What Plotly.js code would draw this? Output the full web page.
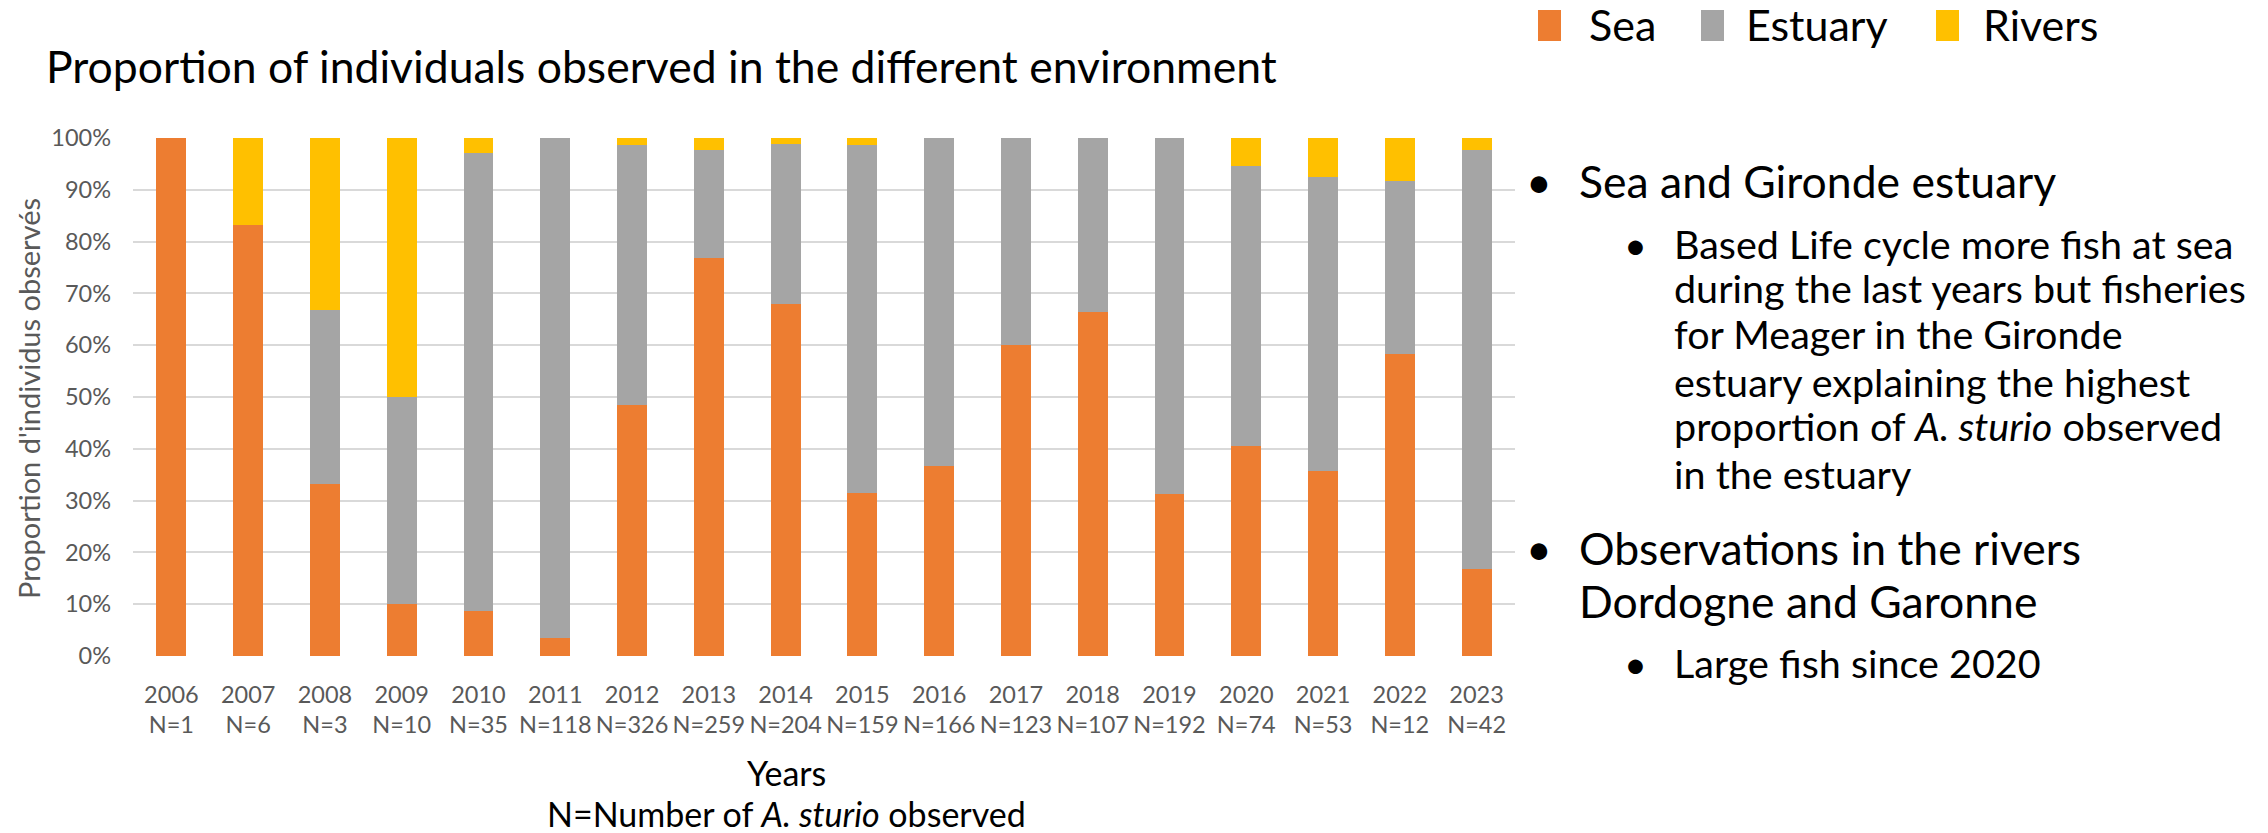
<!DOCTYPE html>
<html>
<head>
<meta charset="utf-8">
<script src="https://cdn.plot.ly/plotly-3.0.1.min.js"></script>
<style>
  html, body { margin: 0; padding: 0; background: #ffffff; }
  #chart { width: 2268px; height: 833px; }
</style>
</head>
<body>
<div id="chart"></div>
<script>
// Observation years and number of A. sturio observed each year
const years = ['2006','2007','2008','2009','2010','2011','2012','2013','2014',
               '2015','2016','2017','2018','2019','2020','2021','2022','2023'];
const counts = [1, 6, 3, 10, 35, 118, 326, 259, 204, 159, 166, 123, 107, 192, 74, 53, 12, 42];

// Share of individuals (%) observed in each environment
const seaPct     = [100, 83.3, 33.3, 10, 8.6, 3.4, 48.5, 76.8, 68.0, 31.4, 36.7, 60.0, 66.4, 31.3, 40.5, 35.8, 58.3, 16.7];
const estuaryPct = [0,   0,    33.4, 40, 88.5, 96.6, 50.1, 20.8, 30.9, 67.3, 63.3, 40.0, 33.6, 68.7, 54.1, 56.7, 33.4, 80.9];
const riversPct  = [0,   16.7, 33.3, 50, 2.9, 0,   1.4,  2.4,  1.1,  1.3,  0,    0,    0,    0,    5.4,  7.5,  8.3,  2.4];

const seriesNames = ['Sea', 'Estuary', 'Rivers'];
const yTicks = [0, 10, 20, 30, 40, 50, 60, 70, 80, 90, 100];
const yTickText = yTicks.map(v => v + '%');
const xTickText = years.map((y, i) => y + '<br>N=' + counts[i]);

const chartTitle = 'Proportion of individuals observed in the different environment';
const yTitle = "Proportion d'individus observés";
const xTitleLines = ['Years', 'N=Number of <i>A. sturio</i> observed'];

// Commentary beside the chart: [indent level, has bullet, text]
const notes = [
  [1, true,  'Sea and Gironde estuary'],
  [2, true,  'Based Life cycle more fish at sea'],
  [2, false, 'during the last years but fisheries'],
  [2, false, 'for Meager in the Gironde'],
  [2, false, 'estuary explaining the highest'],
  [2, false, 'proportion of <i>A. sturio</i> observed'],
  [2, false, 'in the estuary'],
  [1, true,  'Observations in the rivers'],
  [1, false, 'Dordogne and Garonne'],
  [2, true,  'Large fish since 2020']
];

// ---- styling and placement ----
const FONT = 'Lato, "Open Sans", sans-serif';
const COLORS = ['#ED7D31', '#A5A5A5', '#FFC000'];
const TEXT_GREY = '#595959';

const W = 2268, H = 833;
const M = { l: 133, r: 753, t: 138, b: 177 };
const PW = W - M.l - M.r, PH = H - M.t - M.b;

// pixel position on the page -> paper coordinates
const px = x => (x - M.l) / PW;
const py = y => (H - M.b - y) / PH;

function label(text, x, baseline, size, opts) {
  opts = opts || {};
  return Object.assign({
    text: text,
    xref: 'paper', yref: 'paper',
    x: px(x), y: py(baseline - 0.36 * size),
    xanchor: 'left', yanchor: 'middle',
    showarrow: false,
    borderpad: 0, borderwidth: 0,
    font: { family: FONT, size: size, color: '#000000' }
  }, opts);
}

const annotations = [];
const shapes = [];

// title of the y axis
annotations.push({
  text: yTitle, xref: 'paper', yref: 'paper',
  x: px(28), y: py(399), xanchor: 'center', yanchor: 'middle',
  textangle: -90, showarrow: false,
  font: { family: FONT, size: 29, color: TEXT_GREY }
});

// two-line title under the x axis
const xTitleBase = [785, 826];
xTitleLines.forEach((t, i) => {
  annotations.push(label(t, 786, xTitleBase[i], 34, { xanchor: 'center' }));
});

// legend row at the top right
const legendSwatchX = [1538, 1701, 1936];
const legendTextX = [1589, 1746, 1983];
seriesNames.forEach((name, i) => {
  shapes.push({
    type: 'rect', xref: 'paper', yref: 'paper',
    x0: px(legendSwatchX[i]), x1: px(legendSwatchX[i] + 23),
    y0: py(41), y1: py(10),
    fillcolor: COLORS[i], line: { width: 0 }
  });
  annotations.push(label(name, legendTextX[i], 40, 43));
});

// bulleted commentary
const noteBaselines = [197, 258, 302, 348, 396, 440, 488, 564, 617, 677];
const levelStyle = {
  1: { bulletX: 1539, textX: 1579, size: 44.5 },
  2: { bulletX: 1635, textX: 1674, size: 39.5 }
};
notes.forEach((n, i) => {
  const st = levelStyle[n[0]];
  if (n[1]) {
    annotations.push(label('\u2022', st.bulletX, noteBaselines[i], st.size, { xanchor: 'center' }));
  }
  annotations.push(label(n[2], st.textX, noteBaselines[i], st.size));
});

const valueSets = [seaPct, estuaryPct, riversPct];
const traces = seriesNames.map((name, i) => ({
  type: 'bar',
  name: name,
  x: years,
  y: valueSets[i],
  marker: { color: COLORS[i], line: { width: 0 } },
  hovertemplate: name + ' %{x}: %{y:.1f}%<extra></extra>'
}));

const layout = {
  width: W, height: H,
  margin: { l: M.l, r: M.r, t: M.t, b: M.b, pad: 0 },
  paper_bgcolor: '#ffffff',
  plot_bgcolor: '#ffffff',
  barmode: 'stack',
  bargap: 0.61,
  showlegend: false,
  title: {
    text: chartTitle,
    xref: 'container', yref: 'container',
    x: 46 / W, xanchor: 'left',
    y: 1 - 67 / H, yanchor: 'middle',
    font: { family: FONT, size: 44.5, color: '#000000' }
  },
  xaxis: {
    type: 'category',
    tickvals: years,
    ticktext: xTickText,
    showgrid: false, showline: false, zeroline: false,
    ticks: '',
    ticklabelstandoff: 22,
    tickfont: { family: FONT, size: 23.5, color: TEXT_GREY },
    fixedrange: true
  },
  yaxis: {
    range: [0, 100],
    tickmode: 'array',
    tickvals: yTicks,
    ticktext: yTickText,
    showgrid: true, gridcolor: '#D9D9D9', gridwidth: 2,
    zeroline: false, showline: false,
    ticks: '',
    ticklabelstandoff: 21,
    tickfont: { family: FONT, size: 23.5, color: TEXT_GREY },
    fixedrange: true
  },
  annotations: annotations,
  shapes: shapes
};

Plotly.newPlot('chart', traces, layout, { displayModeBar: false, staticPlot: true });
</script>
</body>
</html>
